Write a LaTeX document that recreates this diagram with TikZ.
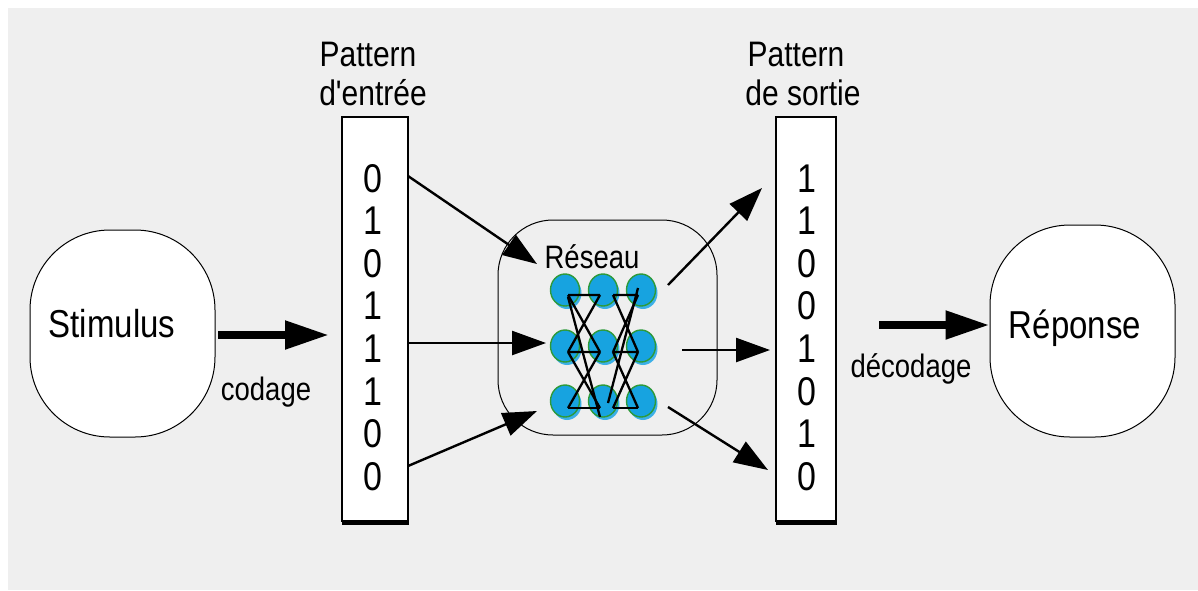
\documentclass[tikz,border=0pt]{standalone}
\usepackage{fontspec}
\usepackage{graphicx}
\setmainfont{Liberation Sans}
\usetikzlibrary{arrows.meta,shapes.geometric}
\definecolor{bg}{HTML}{EFEFEF}
\definecolor{neuronfill}{HTML}{17A3E0}
\definecolor{neuronedge}{HTML}{2E9A3A}
\definecolor{neuronshadow}{HTML}{3BB0E8}
\newcommand{\tallT}[1]{\scalebox{1}[1.18]{#1}}
\tikzset{
  blob/.style={draw=black, line width=1pt, fill=white, rounded corners=80pt, inner sep=0pt},
  netbox/.style={draw=black, line width=1pt, fill=bg, rounded corners=55pt, inner sep=0pt},
  pattbox/.style={draw=black, line width=2.8pt, fill=white, inner sep=0pt},
  digit/.style={font=\fontsize{34}{34}\selectfont, inner sep=0pt, anchor=base},
  lbl/.style={font=\fontsize{30}{30}\selectfont, inner sep=0pt, anchor=base},
  biglbl/.style={font=\fontsize{33}{33}\selectfont, inner sep=0pt, anchor=base},
  smalllbl/.style={font=\fontsize{27.5}{27.5}\selectfont, inner sep=0pt, anchor=base},
  thinarrow/.style={line width=2.4pt, -{Triangle[length=34pt,width=24pt]}},
  thickarrow/.style={line width=8pt, -{Triangle[length=44pt,width=27pt]}},
  neuron/.style={ellipse, draw=neuronedge, line width=1.4pt, fill=neuronfill, minimum width=29pt, minimum height=32pt, inner sep=0pt},
  nshadow/.style={ellipse, fill=neuronshadow, minimum width=29pt, minimum height=32pt, inner sep=0pt},
  netline/.style={line width=2.3pt, black}
}
\begin{document}
\begin{tikzpicture}[x=1pt,y=-1pt]
\useasboundingbox (0,0) rectangle (1198,590);
\fill[white] (0,0) rectangle (1198,590);
\fill[bg] (8,8) rectangle (1198,590);

% Stimulus
\node[blob, minimum width=185pt, minimum height=207pt] (stim) at (122.5,333.5) {};
\node[biglbl] (stimtxt) at (112,337) {\tallT{Stimulus}};

% Input pattern
\fill[black] (342,519) rectangle (409,525);
\node[pattbox, minimum width=66pt, minimum height=404pt] (inbox) at (375,319) {};
\node[lbl] (pin1) at (368,66) {\tallT{Pattern}};
\node[lbl] (pin2) at (373,105) {\tallT{d\textquotesingle entrée}};
\foreach \d [count=\i] in {0,1,0,1,1,1,0,0} {
  \node[digit] (d\i) at (373,{149.4+42.6*\i}) {\tallT{\d}};
}

% Output pattern
\fill[black] (776,519) rectangle (837,525);
\node[pattbox, minimum width=60pt, minimum height=404pt] (outbox) at (806,319) {};
\node[lbl] (pout1) at (796,66) {\tallT{Pattern}};
\node[lbl] (pout2) at (803,105) {\tallT{de sortie}};
\foreach \d [count=\i] in {1,1,0,0,1,0,1,0} {
  \node[digit] (e\i) at (807,{149.4+42.6*\i}) {\tallT{\d}};
}

% Reseau
\node[netbox, minimum width=219pt, minimum height=215pt] (reseau) at (607.5,327.5) {};
\node[smalllbl] (restxt) at (592,268) {\tallT{Réseau}};
\foreach \x [count=\c] in {565,603,641} {
  \foreach \y [count=\r] in {290,346,401} {
    \node[nshadow] (h\c\r) at (\x+2,\y+3) {};
    \node[neuron] (n\c\r) at (\x,\y) {};
  }
}
\foreach \xa/\xb in {568/600,613/638} {
  \foreach \ya/\yb in {295/352,352/408} {
    \draw[netline] (\xa,\ya) -- (\xb,\ya) (\xb,\ya) -- (\xa,\yb) (\xa,\ya) -- (\xb,\yb);
  }
  \draw[netline] (\xa,408) -- (\xb,408);
}
\draw[netline] (568,297) -- (600,417);
\draw[netline] (638,288) -- (608,403);

% Reponse
\node[blob, minimum width=185pt, minimum height=212pt] (rep) at (1082.5,331) {};
\node[biglbl] (reptxt) at (1075,338) {\tallT{Réponse}};

% Labels
\node[smalllbl] (cod) at (266,400) {\tallT{codage}};
\node[smalllbl] (decod) at (911,377) {\tallT{décodage}};

% Connectors
\coordinate (tin1) at (537,264);
\coordinate (tin2) at (546,343);
\coordinate (tin3) at (537,411);
\coordinate (a1) at (408,176);
\coordinate (a2) at (408,343);
\coordinate (a3) at (408,466);
\draw[thinarrow] (a1) -- (tin1);
\draw[thinarrow] (a2) -- (tin2);
\draw[thinarrow] (a3) -- (tin3);

\coordinate (s1) at (668,285);
\coordinate (s2) at (682,350);
\coordinate (s3) at (668,407);
\coordinate (t1) at (762,188);
\coordinate (t2) at (770,350);
\coordinate (t3) at (768,470);
\draw[thinarrow] (s1) -- (t1);
\draw[thinarrow] (s2) -- (t2);
\draw[thinarrow] (s3) -- (t3);

\coordinate (k1) at (218,335);
\coordinate (k2) at (329,335);
\draw[thickarrow] (k1) -- (k2);
\coordinate (k3) at (879,325);
\draw[thickarrow] (k3) -- (rep.west |- k3);
\end{tikzpicture}
\end{document}
